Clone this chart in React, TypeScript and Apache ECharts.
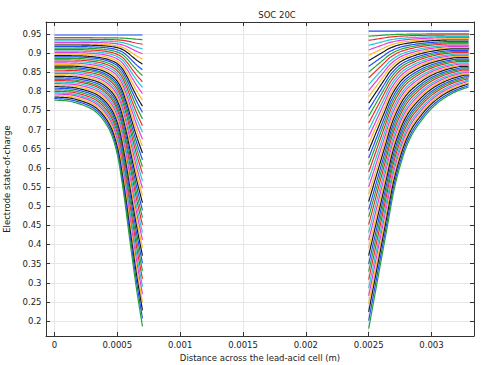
import React, { useEffect, useRef } from "react";
import * as echarts from "echarts";

const chartTitle = "SOC 20C";
const xName = "Distance across the lead-acid cell (m)";
const yName = "Electrode state-of-charge";
const xTicks = [0, 0.0005, 0.001, 0.0015, 0.002, 0.0025, 0.003];
const yTicks = [0.2, 0.25, 0.3, 0.35, 0.4, 0.45, 0.5, 0.55, 0.6, 0.65, 0.7, 0.75, 0.8, 0.85, 0.9, 0.95];

// electrode geometry (m)
const leftX0 = 0;
const leftX1 = 0.0007;
const rightX0 = 0.0025;
const rightX1 = 0.0033;

// SOC at the current collector side (x=0 / x=0.0033) of each curve
const leftStart = [0.947,0.940,0.936,0.932,0.928,0.924,0.921,0.917,0.913,0.909,0.905,0.901,0.897,0.893,0.890,0.886,0.882,0.878,0.874,0.870,0.866,0.862,0.859,0.855,0.851,0.847,0.843,0.839,0.835,0.831,0.828,0.824,0.820,0.816,0.812,0.808,0.804,0.800,0.796,0.793,0.789,0.785,0.781,0.777];
// SOC at the separator side (x=0.0007 / x=0.0025) of each curve
const leftEnd = [0.947,0.935,0.923,0.911,0.898,0.884,0.871,0.856,0.841,0.825,0.810,0.794,0.777,0.761,0.745,0.728,0.710,0.693,0.675,0.657,0.639,0.621,0.603,0.585,0.566,0.547,0.528,0.509,0.489,0.470,0.451,0.431,0.412,0.392,0.371,0.351,0.331,0.310,0.290,0.270,0.249,0.228,0.207,0.186];
const rightStart = [0.957,0.950,0.947,0.943,0.940,0.937,0.934,0.930,0.927,0.924,0.920,0.917,0.914,0.911,0.907,0.904,0.901,0.897,0.894,0.891,0.888,0.884,0.881,0.878,0.874,0.871,0.868,0.865,0.861,0.858,0.855,0.851,0.848,0.845,0.842,0.838,0.835,0.832,0.828,0.825,0.822,0.819,0.815,0.812];
const rightEnd = [0.957,0.944,0.933,0.920,0.908,0.894,0.880,0.865,0.850,0.835,0.818,0.802,0.786,0.769,0.752,0.735,0.717,0.699,0.681,0.663,0.645,0.626,0.608,0.589,0.569,0.550,0.531,0.512,0.491,0.472,0.452,0.431,0.411,0.391,0.371,0.349,0.329,0.308,0.286,0.266,0.245,0.224,0.201,0.180];

// profile of the last (deepest) curve vs distance from the separator
const leftProfileD = [0, 0.00005, 0.0001, 0.00015, 0.0002, 0.00025, 0.0003, 0.00035, 0.0004, 0.0005, 0.0006, 0.0007];
const leftProfileV = [0.186, 0.29, 0.41, 0.535, 0.635, 0.69, 0.72, 0.74, 0.753, 0.767, 0.775, 0.777];
const rightProfileD = [0, 0.00005, 0.0001, 0.00015, 0.0002, 0.00025, 0.0003, 0.00035, 0.0004, 0.0005, 0.0006, 0.0007, 0.0008];
const rightProfileV = [0.180, 0.27, 0.36, 0.45, 0.54, 0.605, 0.655, 0.69, 0.715, 0.755, 0.782, 0.800, 0.812];

const lineColors = ["#1f4dff", "#1fa33a", "#ee2b2b", "#1fc8d0", "#e03de0", "#ffb81f", "#1a1a1a"];

// monotone cubic (Fritsch-Carlson) through the read profile points
function pchip(xs: number[], vs: number[]) {
  const n = xs.length;
  const h: number[] = [], del: number[] = [], m: number[] = new Array(n).fill(0);
  for (let i = 0; i < n - 1; i++) { h.push(xs[i + 1] - xs[i]); del.push((vs[i + 1] - vs[i]) / h[i]); }
  m[0] = del[0]; m[n - 1] = del[n - 2];
  for (let i = 1; i < n - 1; i++) {
    if (del[i - 1] * del[i] <= 0) m[i] = 0;
    else {
      const w1 = 2 * h[i] + h[i - 1], w2 = h[i] + 2 * h[i - 1];
      m[i] = (w1 + w2) / (w1 / del[i - 1] + w2 / del[i]);
    }
  }
  return (x: number) => {
    if (x <= xs[0]) return vs[0];
    if (x >= xs[n - 1]) return vs[n - 1];
    let i = 0;
    while (i < n - 2 && x > xs[i + 1]) i++;
    const t = (x - xs[i]) / h[i];
    const t2 = t * t, t3 = t2 * t;
    return (2 * t3 - 3 * t2 + 1) * vs[i] + (t3 - 2 * t2 + t) * h[i] * m[i]
      + (-2 * t3 + 3 * t2) * vs[i + 1] + (t3 - t2) * h[i] * m[i + 1];
  };
}

function buildFamily(starts: number[], ends: number[], pd: number[], pv: number[],
  xFrom: number, xTo: number, sepAtEnd: boolean): number[][][] {
  const f = pchip(pd, pv);
  const dmax = pd[pd.length - 1];
  const top = pv[pv.length - 1], bot = pv[0];
  const G = (d: number) => (top - f(Math.min(d, dmax))) / (top - bot);
  const step = 0.000005;
  const n = Math.round((xTo - xFrom) / step);
  const last = starts.length - 1;
  return starts.map((s, k) => {
    const drop = s - ends[k];
    const w = 0.75 + 0.25 * (k / last);
    const pts: number[][] = [];
    for (let i = 0; i <= n; i++) {
      const x = xFrom + (xTo - xFrom) * (i / n);
      const d = sepAtEnd ? xTo - x : x - xFrom;
      pts.push([x, s - drop * G(d / w)]);
    }
    return pts;
  });
}

export default function App() {
  const ref = useRef<HTMLDivElement>(null);
  useEffect(() => {
    if (!ref.current) return;
    const chart = echarts.init(ref.current, undefined, { renderer: "svg" });
    const leftCurves = buildFamily(leftStart, leftEnd, leftProfileD, leftProfileV, leftX0, leftX1, true);
    const rightCurves = buildFamily(rightStart, rightEnd, rightProfileD, rightProfileV, rightX0, rightX1, false);
    const series: any[] = [];
    for (let k = 0; k < leftCurves.length; k++) {
      const color = lineColors[k % lineColors.length];
      for (const data of [leftCurves[k], rightCurves[k]]) {
        series.push({
          type: "line", showSymbol: false, symbol: "none", silent: true,
          lineStyle: { width: 1.2, color }, itemStyle: { color }, data,
        });
      }
    }
    const font = "DejaVu Sans";
    const txt = { fontFamily: font, fontSize: 8.5, color: "#222" };
    const frame = { show: true, onZero: false, lineStyle: { color: "#333", width: 1 } };
    const split = { show: true, lineStyle: { color: "#e6e6e6", width: 1 } };
    chart.setOption({
      animation: false,
      title: {
        text: chartTitle, left: 272, top: 5, textAlign: "center",
        textStyle: { fontFamily: font, fontSize: 8.5, fontWeight: "normal", color: "#222" },
      },
      grid: { left: 46, right: 10, top: 22, bottom: 29, outerBoundsMode: "none", containLabel: false },
      xAxis: [
        {
          type: "value", min: -0.0000675, max: 0.003338, position: "bottom",
          name: xName, nameLocation: "middle", nameGap: 12.5, nameTextStyle: txt,
          axisLine: frame,
          axisTick: { show: true, inside: true, length: 4, customValues: xTicks, lineStyle: { color: "#333" } },
          axisLabel: { show: true, margin: 4, customValues: xTicks, formatter: (v: number) => String(v), ...txt },
          splitLine: split,
        },
        {
          type: "value", min: -0.0000675, max: 0.003338, position: "top",
          axisLine: frame,
          axisTick: { show: true, inside: true, length: 4, customValues: xTicks, lineStyle: { color: "#333" } },
          axisLabel: { show: false },
          splitLine: { show: false },
        },
      ],
      yAxis: [
        {
          type: "value", min: 0.161, max: 0.981, position: "left",
          name: yName, nameLocation: "middle", nameGap: 33, nameRotate: 90, nameTextStyle: txt,
          axisLine: frame,
          axisTick: { show: true, inside: true, length: 4, customValues: yTicks, lineStyle: { color: "#333" } },
          axisLabel: { show: true, margin: 4.5, customValues: yTicks, formatter: (v: number) => String(v), ...txt },
          splitLine: split,
        },
        {
          type: "value", min: 0.161, max: 0.981, position: "right",
          axisLine: frame,
          axisTick: { show: true, inside: true, length: 4, customValues: yTicks, lineStyle: { color: "#333" } },
          axisLabel: { show: false },
          splitLine: { show: false },
        },
      ],
      series,
    });
    return () => chart.dispose();
  }, []);
  return <div ref={ref} style={{ width: 484, height: 365, position: "absolute", left: 0, top: 0 }} />;
}
